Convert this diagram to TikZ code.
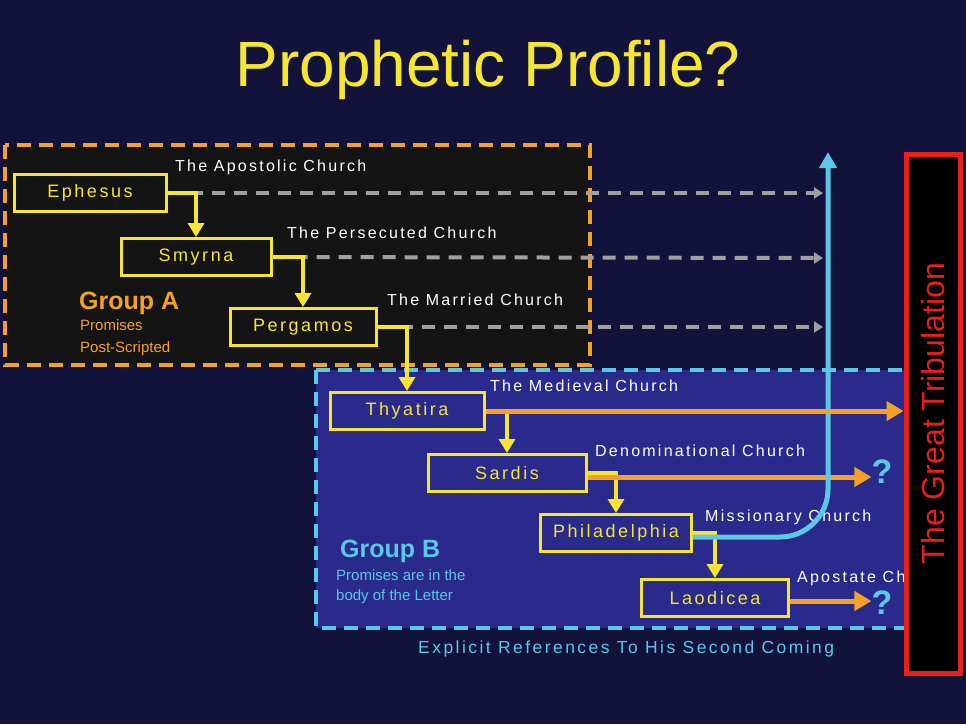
\documentclass[tikz,border=0pt]{standalone}
\usepackage{fontspec}
\setmainfont{Liberation Sans}
\newfontfamily\pixfont[LetterSpace=14]{Liberation Sans}
\usepackage{xcolor}
\usetikzlibrary{positioning,calc,arrows.meta}
\definecolor{bgnavy}{RGB}{18,18,58}
\definecolor{groupAfill}{RGB}{20,20,20}
\definecolor{groupBfill}{RGB}{42,42,140}
\definecolor{cYellow}{RGB}{245,230,50}
\definecolor{cOrange}{RGB}{245,160,40}
\definecolor{cCyan}{RGB}{90,200,230}
\definecolor{cGrey}{RGB}{160,160,160}
\definecolor{cRed}{RGB}{235,30,30}

\begin{document}
\begin{tikzpicture}[x=1pt,y=-1pt,
    church/.style={draw=cYellow, line width=3pt, text=cYellow, minimum height=37pt, inner sep=0pt, font=\pixfont\fontsize{18}{20}\selectfont},
    era/.style={anchor=west, inner sep=0pt, text=white, font=\pixfont\fontsize{16}{18}\selectfont},
    ylink/.style={draw=cYellow, line width=4pt, -{Triangle[width=16pt,length=14pt]}},
    glink/.style={draw=cGrey, line width=4pt, dash pattern=on 13pt off 9pt, -{Triangle[width=11pt,length=9pt]}},
    olink/.style={draw=cOrange, line width=5pt, -{Triangle[width=19pt,length=17pt]}},
    note/.style={anchor=west, inner sep=0pt, font=\fontsize{15}{17}\selectfont},
    quest/.style={text=cCyan, inner sep=0pt, font=\bfseries\fontsize{34}{36}\selectfont}
]
    \fill [bgnavy] (0,0) rectangle (966,724);
    \node [text=cYellow, font=\fontsize{64}{66}\selectfont] (title) at (488,70) {Prophetic Profile?};

    % Groups
    \draw [fill=groupAfill, draw=cOrange, line width=4pt, dash pattern=on 14pt off 8pt] (5,145) rectangle (590,365);
    \draw [fill=groupBfill, draw=cCyan, line width=4pt, dash pattern=on 14pt off 8pt] (316,370) rectangle (912,628);

    \node [note, text=cOrange, font=\bfseries\fontsize{25}{27}\selectfont] (grpA) at (79,303) {Group A};
    \node [note, text=cOrange] (grpAa) at (80,325) {Promises};
    \node [note, text=cOrange] (grpAb) at (80,349) {Post-Scripted};
    \node [note, text=cCyan, font=\bfseries\fontsize{25}{27}\selectfont] (grpB) at (340,551) {Group B};
    \node [note, text=cCyan] (grpBa) at (336,575) {Promises are in the};
    \node [note, text=cCyan] (grpBb) at (336,597) {body of the Letter};
    \node [anchor=west, inner sep=0pt, text=cCyan, font=\pixfont\fontsize{17.5}{19}\selectfont] (coming) at (418,649) {Explicit References To His Second Coming};

    % Churches
    \foreach \n/\t/\x/\y/\w in {eph/Ephesus/90/193/152, smy/Smyrna/196/257/150, per/Pergamos/303/327/146, thy/Thyatira/407/411/154, sar/Sardis/507/473/158, phi/Philadelphia/616/533/151, lao/Laodicea/715/598/147} {
        \node [church, minimum width=\w pt] (\n) at (\x,\y) {\t};
    }

    % Eras
    \node [era] (apo) at (175,167) {The Apostolic Church};
    \node [era] (pers) at (287,233) {The Persecuted Church};
    \node [era] (marr) at (387,300) {The Married Church};
    \node [era] (medi) at (490,386) {The Medieval Church};
    \node [era] (deno) at (595,451) {Denominational Church};
    \node [era] (miss) at (705,517) {Missionary Church};
    \node [era] (apos) at (797,578) {Apostate Church};

    \coordinate (endE) at (823,193);
    \coordinate (endS) at (823,258);
    \coordinate (endP) at (823,327);
    \coordinate (rapture) at (828,152);
    \node [quest] (qS) at (882,472) {?};
    \node [quest] (qL) at (882,603) {?};

    \foreach \a/\b in {eph/endE, smy/endS, per/endP} {
        \draw [glink] (\a.east) -- (\b);
    }
    \foreach \a/\b in {eph/smy, smy/per, per/thy, thy/sar, sar/phi, phi/lao} {
        \draw [ylink] (\a.east) -| (\b.north);
    }

    \draw [olink] ([yshift=-4pt]sar.east) -- ([yshift=-4pt]sar.east -| qS.west);
    \draw [olink] ([yshift=-3pt]lao.east) -- ([yshift=-3pt]lao.east -| qL.west);
    \draw [draw=cCyan, line width=5pt, rounded corners=48pt, -{Triangle[width=17pt,length=16pt]}] ([yshift=-4pt]phi.east) -- ([yshift=-4pt]phi.east -| rapture) -- (rapture);

    % Tribulation
    \node [draw=cRed, fill=black, line width=5pt, minimum width=54pt, minimum height=519pt, inner sep=0pt] (trib) at (933,413.5) {};
    \node [rotate=90, text=cRed, font=\fontsize{32}{34}\selectfont] (tribtext) at (trib.center) {The Great Tribulation};
    \draw [olink] (thy.east) -- (thy.east -| trib.west);
\end{tikzpicture}
\end{document}
